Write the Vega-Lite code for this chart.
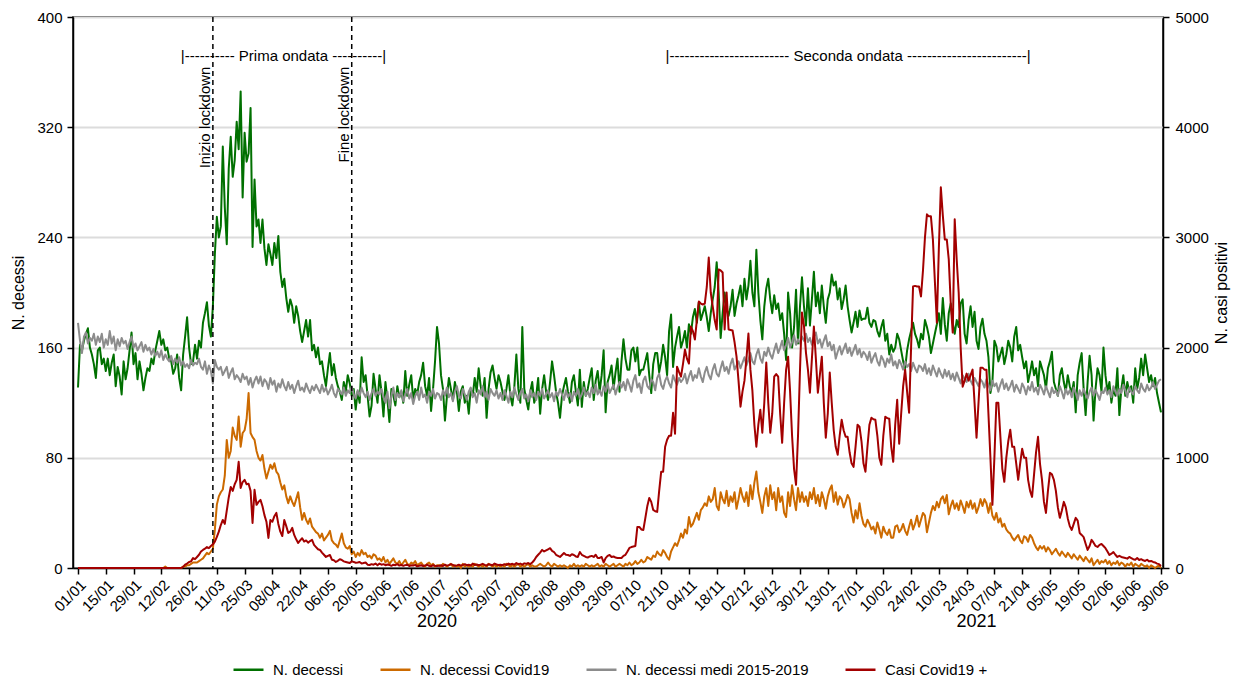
{
  "$schema": "https://vega.github.io/schema/vega-lite/v6.json",
  "width": 1090,
  "height": 551,
  "autosize": {"type": "none"},
  "padding": {"left": 73, "top": 17, "right": 71, "bottom": 109},
  "background": "white",
  "config": {
    "font": "Liberation Sans",
    "view": {"stroke": "black", "strokeWidth": 1.5},
    "axis": {
      "labelFont": "Liberation Sans",
      "labelFontSize": 15,
      "labelColor": "black",
      "titleFont": "Liberation Sans",
      "titleFontSize": 16,
      "titleFontWeight": "normal",
      "titleColor": "black",
      "domainColor": "black",
      "domainWidth": 1.5,
      "tickColor": "black",
      "tickWidth": 1.5,
      "tickSize": 6,
      "grid": false
    },
    "axisX": {"labelOverlap": false},
    "text": {"font": "Liberation Sans", "color": "black"}
  },
  "datasets": {
    "serie": [
{"t":"2020-01-01","dec":131,"cov":0,"med":178,"pos":0},
{"t":"2020-01-02","dec":162,"cov":0,"med":165,"pos":0},
{"t":"2020-01-03","dec":158,"cov":0,"med":156,"pos":0},
{"t":"2020-01-04","dec":165,"cov":0,"med":168,"pos":0},
{"t":"2020-01-05","dec":170,"cov":0,"med":171,"pos":0},
{"t":"2020-01-06","dec":174,"cov":0,"med":163,"pos":0},
{"t":"2020-01-07","dec":160,"cov":0,"med":167,"pos":0},
{"t":"2020-01-08","dec":155,"cov":0,"med":165,"pos":0},
{"t":"2020-01-09","dec":148,"cov":0,"med":170,"pos":0},
{"t":"2020-01-10","dec":138,"cov":0,"med":162,"pos":0},
{"t":"2020-01-11","dec":158,"cov":0,"med":168,"pos":0},
{"t":"2020-01-12","dec":160,"cov":0,"med":164,"pos":0},
{"t":"2020-01-13","dec":148,"cov":0,"med":170,"pos":0},
{"t":"2020-01-14","dec":152,"cov":0,"med":160,"pos":0},
{"t":"2020-01-15","dec":143,"cov":0,"med":166,"pos":0},
{"t":"2020-01-16","dec":152,"cov":0,"med":162,"pos":0},
{"t":"2020-01-17","dec":140,"cov":0,"med":172,"pos":0},
{"t":"2020-01-18","dec":149,"cov":0,"med":163,"pos":0},
{"t":"2020-01-19","dec":155,"cov":0,"med":168,"pos":0},
{"t":"2020-01-20","dec":132,"cov":0,"med":158,"pos":0},
{"t":"2020-01-21","dec":146,"cov":0,"med":166,"pos":0},
{"t":"2020-01-22","dec":139,"cov":0,"med":161,"pos":0},
{"t":"2020-01-23","dec":126,"cov":0,"med":167,"pos":0},
{"t":"2020-01-24","dec":150,"cov":0,"med":163,"pos":0},
{"t":"2020-01-25","dec":137,"cov":0,"med":165,"pos":0},
{"t":"2020-01-26","dec":145,"cov":0,"med":159,"pos":0},
{"t":"2020-01-27","dec":158,"cov":0,"med":164,"pos":0},
{"t":"2020-01-28","dec":171,"cov":0,"med":168,"pos":0},
{"t":"2020-01-29","dec":148,"cov":0,"med":160,"pos":0},
{"t":"2020-01-30","dec":156,"cov":0,"med":163,"pos":0},
{"t":"2020-01-31","dec":137,"cov":0,"med":158,"pos":0},
{"t":"2020-02-01","dec":150,"cov":0,"med":161,"pos":0},
{"t":"2020-02-02","dec":141,"cov":0,"med":164,"pos":0},
{"t":"2020-02-03","dec":129,"cov":0,"med":157,"pos":0},
{"t":"2020-02-04","dec":138,"cov":0,"med":162,"pos":0},
{"t":"2020-02-05","dec":145,"cov":0,"med":158,"pos":0},
{"t":"2020-02-06","dec":143,"cov":0,"med":160,"pos":0},
{"t":"2020-02-07","dec":152,"cov":0,"med":155,"pos":0},
{"t":"2020-02-08","dec":148,"cov":0,"med":159,"pos":0},
{"t":"2020-02-09","dec":158,"cov":0,"med":154,"pos":0},
{"t":"2020-02-10","dec":165,"cov":0,"med":157,"pos":0},
{"t":"2020-02-11","dec":172,"cov":0,"med":153,"pos":0},
{"t":"2020-02-12","dec":162,"cov":0,"med":158,"pos":0},
{"t":"2020-02-13","dec":166,"cov":0,"med":151,"pos":0},
{"t":"2020-02-14","dec":158,"cov":1,"med":155,"pos":0},
{"t":"2020-02-15","dec":160,"cov":0,"med":152,"pos":0},
{"t":"2020-02-16","dec":152,"cov":0,"med":150,"pos":0},
{"t":"2020-02-17","dec":150,"cov":0,"med":154,"pos":0},
{"t":"2020-02-18","dec":141,"cov":0,"med":148,"pos":0},
{"t":"2020-02-19","dec":145,"cov":0,"med":152,"pos":0},
{"t":"2020-02-20","dec":155,"cov":0,"med":149,"pos":0},
{"t":"2020-02-21","dec":138,"cov":0,"med":153,"pos":0},
{"t":"2020-02-22","dec":129,"cov":0,"med":147,"pos":0},
{"t":"2020-02-23","dec":155,"cov":1,"med":150,"pos":10},
{"t":"2020-02-24","dec":168,"cov":1,"med":146,"pos":30},
{"t":"2020-02-25","dec":182,"cov":2,"med":148,"pos":40},
{"t":"2020-02-26","dec":160,"cov":2,"med":145,"pos":55},
{"t":"2020-02-27","dec":148,"cov":3,"med":151,"pos":60},
{"t":"2020-02-28","dec":150,"cov":4,"med":147,"pos":90},
{"t":"2020-02-29","dec":162,"cov":4,"med":149,"pos":80},
{"t":"2020-03-01","dec":152,"cov":4,"med":148,"pos":100},
{"t":"2020-03-02","dec":165,"cov":5,"med":152,"pos":120},
{"t":"2020-03-03","dec":160,"cov":6,"med":146,"pos":150},
{"t":"2020-03-04","dec":178,"cov":7,"med":144,"pos":164},
{"t":"2020-03-05","dec":185,"cov":9,"med":150,"pos":175},
{"t":"2020-03-06","dec":193,"cov":11,"med":141,"pos":190},
{"t":"2020-03-07","dec":176,"cov":10,"med":147,"pos":180},
{"t":"2020-03-08","dec":168,"cov":12,"med":143,"pos":200},
{"t":"2020-03-09","dec":190,"cov":14,"med":134,"pos":215},
{"t":"2020-03-10","dec":228,"cov":28,"med":151,"pos":240},
{"t":"2020-03-11","dec":255,"cov":46,"med":146,"pos":282},
{"t":"2020-03-12","dec":240,"cov":52,"med":144,"pos":330},
{"t":"2020-03-13","dec":248,"cov":55,"med":146,"pos":390},
{"t":"2020-03-14","dec":306,"cov":57,"med":140,"pos":436},
{"t":"2020-03-15","dec":262,"cov":67,"med":143,"pos":400},
{"t":"2020-03-16","dec":235,"cov":93,"med":146,"pos":520},
{"t":"2020-03-17","dec":290,"cov":80,"med":138,"pos":640},
{"t":"2020-03-18","dec":313,"cov":85,"med":142,"pos":736},
{"t":"2020-03-19","dec":284,"cov":102,"med":145,"pos":700},
{"t":"2020-03-20","dec":296,"cov":96,"med":137,"pos":760},
{"t":"2020-03-21","dec":324,"cov":93,"med":140,"pos":800},
{"t":"2020-03-22","dec":304,"cov":110,"med":138,"pos":964},
{"t":"2020-03-23","dec":346,"cov":88,"med":135,"pos":727},
{"t":"2020-03-24","dec":269,"cov":98,"med":141,"pos":780},
{"t":"2020-03-25","dec":316,"cov":100,"med":137,"pos":800},
{"t":"2020-03-26","dec":295,"cov":108,"med":139,"pos":760},
{"t":"2020-03-27","dec":301,"cov":127,"med":133,"pos":764},
{"t":"2020-03-28","dec":334,"cov":98,"med":138,"pos":700},
{"t":"2020-03-29","dec":233,"cov":95,"med":131,"pos":409},
{"t":"2020-03-30","dec":282,"cov":93,"med":136,"pos":709},
{"t":"2020-03-31","dec":248,"cov":85,"med":139,"pos":573},
{"t":"2020-04-01","dec":253,"cov":80,"med":134,"pos":600},
{"t":"2020-04-02","dec":236,"cov":78,"med":139,"pos":618},
{"t":"2020-04-03","dec":253,"cov":82,"med":132,"pos":560},
{"t":"2020-04-04","dec":232,"cov":72,"med":137,"pos":480},
{"t":"2020-04-05","dec":220,"cov":65,"med":135,"pos":420},
{"t":"2020-04-06","dec":235,"cov":70,"med":130,"pos":273},
{"t":"2020-04-07","dec":228,"cov":75,"med":138,"pos":436},
{"t":"2020-04-08","dec":220,"cov":72,"med":133,"pos":420},
{"t":"2020-04-09","dec":236,"cov":76,"med":136,"pos":470},
{"t":"2020-04-10","dec":225,"cov":70,"med":128,"pos":500},
{"t":"2020-04-11","dec":241,"cov":68,"med":134,"pos":400},
{"t":"2020-04-12","dec":215,"cov":62,"med":131,"pos":330},
{"t":"2020-04-13","dec":204,"cov":57,"med":137,"pos":290},
{"t":"2020-04-14","dec":210,"cov":60,"med":132,"pos":436},
{"t":"2020-04-15","dec":196,"cov":52,"med":129,"pos":380},
{"t":"2020-04-16","dec":186,"cov":47,"med":135,"pos":318},
{"t":"2020-04-17","dec":195,"cov":52,"med":130,"pos":330},
{"t":"2020-04-18","dec":190,"cov":48,"med":133,"pos":364},
{"t":"2020-04-19","dec":178,"cov":45,"med":127,"pos":300},
{"t":"2020-04-20","dec":190,"cov":50,"med":132,"pos":260},
{"t":"2020-04-21","dec":183,"cov":55,"med":136,"pos":227},
{"t":"2020-04-22","dec":172,"cov":44,"med":129,"pos":250},
{"t":"2020-04-23","dec":164,"cov":35,"med":131,"pos":270},
{"t":"2020-04-24","dec":172,"cov":40,"med":128,"pos":240},
{"t":"2020-04-25","dec":180,"cov":35,"med":134,"pos":250},
{"t":"2020-04-26","dec":168,"cov":32,"med":130,"pos":230},
{"t":"2020-04-27","dec":180,"cov":36,"med":127,"pos":245},
{"t":"2020-04-28","dec":158,"cov":30,"med":132,"pos":255},
{"t":"2020-04-29","dec":162,"cov":28,"med":129,"pos":210},
{"t":"2020-04-30","dec":153,"cov":26,"med":133,"pos":190},
{"t":"2020-05-01","dec":160,"cov":25,"med":130,"pos":170},
{"t":"2020-05-02","dec":148,"cov":22,"med":127,"pos":164},
{"t":"2020-05-03","dec":150,"cov":25,"med":133,"pos":140},
{"t":"2020-05-04","dec":140,"cov":20,"med":128,"pos":120},
{"t":"2020-05-05","dec":132,"cov":22,"med":131,"pos":100},
{"t":"2020-05-06","dec":145,"cov":24,"med":126,"pos":110},
{"t":"2020-05-07","dec":156,"cov":27,"med":129,"pos":118},
{"t":"2020-05-08","dec":140,"cov":20,"med":133,"pos":75},
{"t":"2020-05-09","dec":148,"cov":18,"med":127,"pos":70},
{"t":"2020-05-10","dec":138,"cov":17,"med":124,"pos":55},
{"t":"2020-05-11","dec":132,"cov":15,"med":130,"pos":65},
{"t":"2020-05-12","dec":128,"cov":20,"med":128,"pos":80},
{"t":"2020-05-13","dec":122,"cov":25,"med":126,"pos":73},
{"t":"2020-05-14","dec":135,"cov":18,"med":131,"pos":60},
{"t":"2020-05-15","dec":128,"cov":15,"med":125,"pos":55},
{"t":"2020-05-16","dec":140,"cov":14,"med":129,"pos":50},
{"t":"2020-05-17","dec":134,"cov":16,"med":127,"pos":45},
{"t":"2020-05-18","dec":125,"cov":10,"med":132,"pos":60},
{"t":"2020-05-19","dec":130,"cov":12,"med":126,"pos":55},
{"t":"2020-05-20","dec":115,"cov":8,"med":123,"pos":48},
{"t":"2020-05-21","dec":128,"cov":11,"med":129,"pos":50},
{"t":"2020-05-22","dec":120,"cov":9,"med":125,"pos":55},
{"t":"2020-05-23","dec":153,"cov":13,"med":131,"pos":40},
{"t":"2020-05-24","dec":135,"cov":10,"med":127,"pos":45},
{"t":"2020-05-25","dec":140,"cov":11,"med":124,"pos":50},
{"t":"2020-05-26","dec":125,"cov":8,"med":128,"pos":30},
{"t":"2020-05-27","dec":110,"cov":9,"med":122,"pos":27},
{"t":"2020-05-28","dec":118,"cov":7,"med":127,"pos":35},
{"t":"2020-05-29","dec":141,"cov":10,"med":130,"pos":30},
{"t":"2020-05-30","dec":130,"cov":9,"med":125,"pos":40},
{"t":"2020-05-31","dec":120,"cov":6,"med":128,"pos":25},
{"t":"2020-06-01","dec":140,"cov":7,"med":126,"pos":40},
{"t":"2020-06-02","dec":128,"cov":5,"med":130,"pos":30},
{"t":"2020-06-03","dec":110,"cov":8,"med":124,"pos":35},
{"t":"2020-06-04","dec":135,"cov":4,"med":120,"pos":25},
{"t":"2020-06-05","dec":122,"cov":6,"med":128,"pos":32},
{"t":"2020-06-06","dec":106,"cov":3,"med":116,"pos":28},
{"t":"2020-06-07","dec":130,"cov":5,"med":125,"pos":20},
{"t":"2020-06-08","dec":125,"cov":7,"med":131,"pos":30},
{"t":"2020-06-09","dec":118,"cov":4,"med":122,"pos":25},
{"t":"2020-06-10","dec":132,"cov":3,"med":127,"pos":35},
{"t":"2020-06-11","dec":124,"cov":5,"med":124,"pos":22},
{"t":"2020-06-12","dec":128,"cov":2,"med":129,"pos":28},
{"t":"2020-06-13","dec":120,"cov":4,"med":121,"pos":20},
{"t":"2020-06-14","dec":143,"cov":6,"med":126,"pos":26},
{"t":"2020-06-15","dec":125,"cov":3,"med":130,"pos":30},
{"t":"2020-06-16","dec":133,"cov":2,"med":123,"pos":18},
{"t":"2020-06-17","dec":140,"cov":4,"med":127,"pos":24},
{"t":"2020-06-18","dec":122,"cov":3,"med":119,"pos":22},
{"t":"2020-06-19","dec":130,"cov":5,"med":125,"pos":28},
{"t":"2020-06-20","dec":126,"cov":2,"med":128,"pos":15},
{"t":"2020-06-21","dec":135,"cov":3,"med":122,"pos":20},
{"t":"2020-06-22","dec":140,"cov":4,"med":131,"pos":25},
{"t":"2020-06-23","dec":149,"cov":2,"med":124,"pos":18},
{"t":"2020-06-24","dec":132,"cov":1,"med":126,"pos":22},
{"t":"2020-06-25","dec":125,"cov":3,"med":120,"pos":30},
{"t":"2020-06-26","dec":138,"cov":4,"med":128,"pos":20},
{"t":"2020-06-27","dec":114,"cov":2,"med":125,"pos":15},
{"t":"2020-06-28","dec":130,"cov":3,"med":130,"pos":25},
{"t":"2020-06-29","dec":150,"cov":1,"med":123,"pos":20},
{"t":"2020-06-30","dec":175,"cov":2,"med":127,"pos":18},
{"t":"2020-07-01","dec":163,"cov":2,"med":126,"pos":20},
{"t":"2020-07-02","dec":140,"cov":1,"med":122,"pos":25},
{"t":"2020-07-03","dec":130,"cov":3,"med":129,"pos":18},
{"t":"2020-07-04","dec":107,"cov":2,"med":125,"pos":30},
{"t":"2020-07-05","dec":125,"cov":1,"med":131,"pos":22},
{"t":"2020-07-06","dec":138,"cov":2,"med":124,"pos":26},
{"t":"2020-07-07","dec":130,"cov":3,"med":127,"pos":35},
{"t":"2020-07-08","dec":122,"cov":1,"med":121,"pos":28},
{"t":"2020-07-09","dec":135,"cov":2,"med":128,"pos":20},
{"t":"2020-07-10","dec":128,"cov":1,"med":132,"pos":24},
{"t":"2020-07-11","dec":114,"cov":2,"med":125,"pos":30},
{"t":"2020-07-12","dec":128,"cov":0,"med":123,"pos":22},
{"t":"2020-07-13","dec":132,"cov":3,"med":130,"pos":28},
{"t":"2020-07-14","dec":120,"cov":1,"med":126,"pos":35},
{"t":"2020-07-15","dec":125,"cov":2,"med":122,"pos":25},
{"t":"2020-07-16","dec":112,"cov":1,"med":128,"pos":30},
{"t":"2020-07-17","dec":130,"cov":2,"med":131,"pos":22},
{"t":"2020-07-18","dec":125,"cov":1,"med":124,"pos":40},
{"t":"2020-07-19","dec":138,"cov":3,"med":127,"pos":28},
{"t":"2020-07-20","dec":128,"cov":2,"med":120,"pos":32},
{"t":"2020-07-21","dec":145,"cov":1,"med":129,"pos":25},
{"t":"2020-07-22","dec":132,"cov":2,"med":126,"pos":30},
{"t":"2020-07-23","dec":125,"cov":1,"med":132,"pos":38},
{"t":"2020-07-24","dec":138,"cov":2,"med":124,"pos":28},
{"t":"2020-07-25","dec":109,"cov":1,"med":128,"pos":22},
{"t":"2020-07-26","dec":130,"cov":3,"med":122,"pos":35},
{"t":"2020-07-27","dec":142,"cov":2,"med":130,"pos":30},
{"t":"2020-07-28","dec":147,"cov":1,"med":127,"pos":25},
{"t":"2020-07-29","dec":138,"cov":2,"med":125,"pos":40},
{"t":"2020-07-30","dec":130,"cov":1,"med":129,"pos":32},
{"t":"2020-07-31","dec":140,"cov":2,"med":123,"pos":28},
{"t":"2020-08-01","dec":135,"cov":1,"med":127,"pos":30},
{"t":"2020-08-02","dec":128,"cov":2,"med":122,"pos":25},
{"t":"2020-08-03","dec":122,"cov":1,"med":129,"pos":35},
{"t":"2020-08-04","dec":130,"cov":3,"med":125,"pos":28},
{"t":"2020-08-05","dec":140,"cov":2,"med":120,"pos":40},
{"t":"2020-08-06","dec":125,"cov":1,"med":128,"pos":32},
{"t":"2020-08-07","dec":118,"cov":2,"med":124,"pos":38},
{"t":"2020-08-08","dec":132,"cov":1,"med":131,"pos":30},
{"t":"2020-08-09","dec":155,"cov":2,"med":126,"pos":45},
{"t":"2020-08-10","dec":130,"cov":3,"med":122,"pos":35},
{"t":"2020-08-11","dec":120,"cov":1,"med":127,"pos":40},
{"t":"2020-08-12","dec":175,"cov":2,"med":130,"pos":30},
{"t":"2020-08-13","dec":130,"cov":1,"med":123,"pos":42},
{"t":"2020-08-14","dec":122,"cov":2,"med":126,"pos":38},
{"t":"2020-08-15","dec":115,"cov":3,"med":121,"pos":45},
{"t":"2020-08-16","dec":128,"cov":1,"med":129,"pos":35},
{"t":"2020-08-17","dec":135,"cov":2,"med":124,"pos":50},
{"t":"2020-08-18","dec":120,"cov":1,"med":127,"pos":70},
{"t":"2020-08-19","dec":125,"cov":1,"med":122,"pos":100},
{"t":"2020-08-20","dec":138,"cov":2,"med":128,"pos":120},
{"t":"2020-08-21","dec":112,"cov":3,"med":125,"pos":140},
{"t":"2020-08-22","dec":130,"cov":2,"med":130,"pos":164},
{"t":"2020-08-23","dec":140,"cov":1,"med":123,"pos":150},
{"t":"2020-08-24","dec":128,"cov":2,"med":126,"pos":160},
{"t":"2020-08-25","dec":122,"cov":4,"med":129,"pos":170},
{"t":"2020-08-26","dec":135,"cov":2,"med":124,"pos":180},
{"t":"2020-08-27","dec":150,"cov":1,"med":127,"pos":155},
{"t":"2020-08-28","dec":140,"cov":3,"med":121,"pos":145},
{"t":"2020-08-29","dec":128,"cov":2,"med":128,"pos":120},
{"t":"2020-08-30","dec":120,"cov":1,"med":125,"pos":110},
{"t":"2020-08-31","dec":109,"cov":2,"med":130,"pos":100},
{"t":"2020-09-01","dec":125,"cov":1,"med":126,"pos":118},
{"t":"2020-09-02","dec":132,"cov":2,"med":122,"pos":136},
{"t":"2020-09-03","dec":138,"cov":1,"med":129,"pos":120},
{"t":"2020-09-04","dec":128,"cov":0,"med":124,"pos":118},
{"t":"2020-09-05","dec":120,"cov":2,"med":127,"pos":110},
{"t":"2020-09-06","dec":135,"cov":1,"med":121,"pos":125},
{"t":"2020-09-07","dec":140,"cov":3,"med":128,"pos":118},
{"t":"2020-09-08","dec":128,"cov":1,"med":125,"pos":105},
{"t":"2020-09-09","dec":118,"cov":2,"med":130,"pos":100},
{"t":"2020-09-10","dec":144,"cov":1,"med":123,"pos":145},
{"t":"2020-09-11","dec":117,"cov":2,"med":126,"pos":120},
{"t":"2020-09-12","dec":135,"cov":1,"med":131,"pos":110},
{"t":"2020-09-13","dec":125,"cov":3,"med":125,"pos":100},
{"t":"2020-09-14","dec":130,"cov":2,"med":128,"pos":95},
{"t":"2020-09-15","dec":138,"cov":1,"med":124,"pos":105},
{"t":"2020-09-16","dec":145,"cov":2,"med":131,"pos":110},
{"t":"2020-09-17","dec":122,"cov":1,"med":127,"pos":100},
{"t":"2020-09-18","dec":136,"cov":2,"med":133,"pos":120},
{"t":"2020-09-19","dec":143,"cov":3,"med":126,"pos":91},
{"t":"2020-09-20","dec":128,"cov":1,"med":129,"pos":91},
{"t":"2020-09-21","dec":140,"cov":2,"med":125,"pos":100},
{"t":"2020-09-22","dec":158,"cov":1,"med":132,"pos":50},
{"t":"2020-09-23","dec":113,"cov":3,"med":128,"pos":90},
{"t":"2020-09-24","dec":135,"cov":2,"med":134,"pos":110},
{"t":"2020-09-25","dec":140,"cov":1,"med":127,"pos":118},
{"t":"2020-09-26","dec":147,"cov":2,"med":130,"pos":100},
{"t":"2020-09-27","dec":130,"cov":3,"med":133,"pos":105},
{"t":"2020-09-28","dec":142,"cov":1,"med":126,"pos":95},
{"t":"2020-09-29","dec":152,"cov":2,"med":131,"pos":91},
{"t":"2020-09-30","dec":128,"cov":3,"med":135,"pos":91},
{"t":"2020-10-01","dec":150,"cov":2,"med":131,"pos":91},
{"t":"2020-10-02","dec":166,"cov":1,"med":135,"pos":110},
{"t":"2020-10-03","dec":152,"cov":3,"med":129,"pos":120},
{"t":"2020-10-04","dec":144,"cov":2,"med":137,"pos":150},
{"t":"2020-10-05","dec":144,"cov":4,"med":133,"pos":182},
{"t":"2020-10-06","dec":158,"cov":2,"med":128,"pos":190},
{"t":"2020-10-07","dec":160,"cov":3,"med":136,"pos":195},
{"t":"2020-10-08","dec":150,"cov":5,"med":140,"pos":200},
{"t":"2020-10-09","dec":160,"cov":3,"med":131,"pos":373},
{"t":"2020-10-10","dec":140,"cov":4,"med":134,"pos":373},
{"t":"2020-10-11","dec":144,"cov":6,"med":127,"pos":350},
{"t":"2020-10-12","dec":144,"cov":4,"med":136,"pos":345},
{"t":"2020-10-13","dec":150,"cov":5,"med":139,"pos":450},
{"t":"2020-10-14","dec":156,"cov":8,"med":132,"pos":560},
{"t":"2020-10-15","dec":140,"cov":7,"med":130,"pos":636},
{"t":"2020-10-16","dec":127,"cov":6,"med":137,"pos":600},
{"t":"2020-10-17","dec":148,"cov":9,"med":135,"pos":527},
{"t":"2020-10-18","dec":156,"cov":8,"med":129,"pos":515},
{"t":"2020-10-19","dec":156,"cov":12,"med":138,"pos":509},
{"t":"2020-10-20","dec":142,"cov":10,"med":141,"pos":700},
{"t":"2020-10-21","dec":150,"cov":9,"med":133,"pos":873},
{"t":"2020-10-22","dec":162,"cov":13,"med":130,"pos":873},
{"t":"2020-10-23","dec":153,"cov":11,"med":136,"pos":1100},
{"t":"2020-10-24","dec":140,"cov":8,"med":139,"pos":1164},
{"t":"2020-10-25","dec":172,"cov":6,"med":134,"pos":1200},
{"t":"2020-10-26","dec":184,"cov":12,"med":131,"pos":1200},
{"t":"2020-10-27","dec":146,"cov":15,"med":140,"pos":1409},
{"t":"2020-10-28","dec":160,"cov":18,"med":136,"pos":1218},
{"t":"2020-10-29","dec":168,"cov":16,"med":133,"pos":1827},
{"t":"2020-10-30","dec":175,"cov":20,"med":138,"pos":1780},
{"t":"2020-10-31","dec":160,"cov":25,"med":135,"pos":1736},
{"t":"2020-11-01","dec":165,"cov":22,"med":137,"pos":1850},
{"t":"2020-11-02","dec":172,"cov":28,"med":141,"pos":1982},
{"t":"2020-11-03","dec":160,"cov":25,"med":134,"pos":1900},
{"t":"2020-11-04","dec":177,"cov":37,"med":139,"pos":1855},
{"t":"2020-11-05","dec":170,"cov":30,"med":143,"pos":2191},
{"t":"2020-11-06","dec":182,"cov":32,"med":136,"pos":2150},
{"t":"2020-11-07","dec":188,"cov":36,"med":140,"pos":2073},
{"t":"2020-11-08","dec":178,"cov":40,"med":138,"pos":2250},
{"t":"2020-11-09","dec":193,"cov":35,"med":145,"pos":2418},
{"t":"2020-11-10","dec":180,"cov":42,"med":139,"pos":2400},
{"t":"2020-11-11","dec":185,"cov":44,"med":135,"pos":2391},
{"t":"2020-11-12","dec":190,"cov":47,"med":142,"pos":2400},
{"t":"2020-11-13","dec":182,"cov":45,"med":146,"pos":2550},
{"t":"2020-11-14","dec":172,"cov":52,"med":140,"pos":2818},
{"t":"2020-11-15","dec":185,"cov":48,"med":137,"pos":2500},
{"t":"2020-11-16","dec":195,"cov":50,"med":144,"pos":2373},
{"t":"2020-11-17","dec":204,"cov":58,"med":148,"pos":2250},
{"t":"2020-11-18","dec":222,"cov":45,"med":141,"pos":2164},
{"t":"2020-11-19","dec":200,"cov":42,"med":139,"pos":2709},
{"t":"2020-11-20","dec":167,"cov":55,"med":145,"pos":2700},
{"t":"2020-11-21","dec":185,"cov":50,"med":150,"pos":2682},
{"t":"2020-11-22","dec":200,"cov":47,"med":143,"pos":2164},
{"t":"2020-11-23","dec":188,"cov":56,"med":146,"pos":2500},
{"t":"2020-11-24","dec":183,"cov":45,"med":141,"pos":2164},
{"t":"2020-11-25","dec":190,"cov":52,"med":148,"pos":2160},
{"t":"2020-11-26","dec":202,"cov":48,"med":152,"pos":2155},
{"t":"2020-11-27","dec":183,"cov":55,"med":144,"pos":2050},
{"t":"2020-11-28","dec":192,"cov":43,"med":147,"pos":1918},
{"t":"2020-11-29","dec":198,"cov":50,"med":150,"pos":1700},
{"t":"2020-11-30","dec":205,"cov":58,"med":145,"pos":1464},
{"t":"2020-12-01","dec":190,"cov":52,"med":149,"pos":1600},
{"t":"2020-12-02","dec":210,"cov":48,"med":153,"pos":1700},
{"t":"2020-12-03","dec":195,"cov":55,"med":147,"pos":1900},
{"t":"2020-12-04","dec":205,"cov":45,"med":151,"pos":2127},
{"t":"2020-12-05","dec":223,"cov":60,"med":156,"pos":1800},
{"t":"2020-12-06","dec":200,"cov":50,"med":150,"pos":1609},
{"t":"2020-12-07","dec":190,"cov":62,"med":148,"pos":1300},
{"t":"2020-12-08","dec":231,"cov":70,"med":155,"pos":1100},
{"t":"2020-12-09","dec":200,"cov":55,"med":159,"pos":1300},
{"t":"2020-12-10","dec":180,"cov":48,"med":152,"pos":1436},
{"t":"2020-12-11","dec":166,"cov":40,"med":149,"pos":1227},
{"t":"2020-12-12","dec":190,"cov":52,"med":157,"pos":1500},
{"t":"2020-12-13","dec":203,"cov":58,"med":154,"pos":1864},
{"t":"2020-12-14","dec":210,"cov":45,"med":160,"pos":1500},
{"t":"2020-12-15","dec":195,"cov":60,"med":155,"pos":1227},
{"t":"2020-12-16","dec":185,"cov":50,"med":152,"pos":1400},
{"t":"2020-12-17","dec":198,"cov":55,"med":158,"pos":1736},
{"t":"2020-12-18","dec":188,"cov":42,"med":163,"pos":1760},
{"t":"2020-12-19","dec":192,"cov":58,"med":156,"pos":1736},
{"t":"2020-12-20","dec":180,"cov":48,"med":160,"pos":1400},
{"t":"2020-12-21","dec":185,"cov":52,"med":165,"pos":1136},
{"t":"2020-12-22","dec":170,"cov":40,"med":158,"pos":1500},
{"t":"2020-12-23","dec":151,"cov":37,"med":162,"pos":1800},
{"t":"2020-12-24","dec":200,"cov":55,"med":167,"pos":1918},
{"t":"2020-12-25","dec":185,"cov":45,"med":160,"pos":1600},
{"t":"2020-12-26","dec":160,"cov":60,"med":164,"pos":1200},
{"t":"2020-12-27","dec":175,"cov":50,"med":169,"pos":900},
{"t":"2020-12-28","dec":202,"cov":42,"med":162,"pos":755},
{"t":"2020-12-29","dec":163,"cov":58,"med":166,"pos":1200},
{"t":"2020-12-30","dec":190,"cov":48,"med":163,"pos":1800},
{"t":"2020-12-31","dec":211,"cov":55,"med":168,"pos":2318},
{"t":"2021-01-01","dec":190,"cov":48,"med":165,"pos":2200},
{"t":"2021-01-02","dec":176,"cov":52,"med":170,"pos":1955},
{"t":"2021-01-03","dec":203,"cov":45,"med":164,"pos":1800},
{"t":"2021-01-04","dec":176,"cov":55,"med":167,"pos":1591},
{"t":"2021-01-05","dec":195,"cov":50,"med":162,"pos":1900},
{"t":"2021-01-06","dec":215,"cov":58,"med":168,"pos":2191},
{"t":"2021-01-07","dec":190,"cov":47,"med":171,"pos":1900},
{"t":"2021-01-08","dec":200,"cov":53,"med":163,"pos":1591},
{"t":"2021-01-09","dec":185,"cov":45,"med":166,"pos":1750},
{"t":"2021-01-10","dec":205,"cov":55,"med":160,"pos":1918},
{"t":"2021-01-11","dec":190,"cov":50,"med":165,"pos":1500},
{"t":"2021-01-12","dec":178,"cov":43,"med":169,"pos":1182},
{"t":"2021-01-13","dec":195,"cov":52,"med":161,"pos":1400},
{"t":"2021-01-14","dec":200,"cov":57,"med":164,"pos":1773},
{"t":"2021-01-15","dec":213,"cov":60,"med":158,"pos":1500},
{"t":"2021-01-16","dec":205,"cov":48,"med":162,"pos":1250},
{"t":"2021-01-17","dec":208,"cov":55,"med":152,"pos":1100},
{"t":"2021-01-18","dec":195,"cov":46,"med":157,"pos":1027},
{"t":"2021-01-19","dec":203,"cov":52,"med":161,"pos":1200},
{"t":"2021-01-20","dec":188,"cov":50,"med":155,"pos":1345},
{"t":"2021-01-21","dec":195,"cov":44,"med":159,"pos":1250},
{"t":"2021-01-22","dec":205,"cov":48,"med":163,"pos":1191},
{"t":"2021-01-23","dec":190,"cov":53,"med":156,"pos":1191},
{"t":"2021-01-24","dec":180,"cov":50,"med":160,"pos":1050},
{"t":"2021-01-25","dec":171,"cov":40,"med":154,"pos":950},
{"t":"2021-01-26","dec":178,"cov":33,"med":158,"pos":918},
{"t":"2021-01-27","dec":186,"cov":42,"med":162,"pos":1100},
{"t":"2021-01-28","dec":175,"cov":36,"med":155,"pos":1300},
{"t":"2021-01-29","dec":187,"cov":47,"med":159,"pos":1282},
{"t":"2021-01-30","dec":180,"cov":38,"med":153,"pos":1150},
{"t":"2021-01-31","dec":181,"cov":32,"med":157,"pos":950},
{"t":"2021-02-01","dec":181,"cov":30,"med":155,"pos":873},
{"t":"2021-02-02","dec":189,"cov":35,"med":151,"pos":1100},
{"t":"2021-02-03","dec":178,"cov":32,"med":157,"pos":1300},
{"t":"2021-02-04","dec":175,"cov":28,"med":149,"pos":1364},
{"t":"2021-02-05","dec":180,"cov":30,"med":153,"pos":1350},
{"t":"2021-02-06","dec":179,"cov":25,"med":156,"pos":1345},
{"t":"2021-02-07","dec":172,"cov":33,"med":150,"pos":1200},
{"t":"2021-02-08","dec":168,"cov":28,"med":147,"pos":1000},
{"t":"2021-02-09","dec":175,"cov":22,"med":154,"pos":936},
{"t":"2021-02-10","dec":180,"cov":30,"med":151,"pos":1200},
{"t":"2021-02-11","dec":165,"cov":26,"med":146,"pos":1373},
{"t":"2021-02-12","dec":170,"cov":24,"med":152,"pos":1360},
{"t":"2021-02-13","dec":155,"cov":28,"med":149,"pos":1355},
{"t":"2021-02-14","dec":162,"cov":22,"med":155,"pos":1100},
{"t":"2021-02-15","dec":157,"cov":22,"med":147,"pos":964},
{"t":"2021-02-16","dec":160,"cov":30,"med":150,"pos":1300},
{"t":"2021-02-17","dec":170,"cov":31,"med":145,"pos":1527},
{"t":"2021-02-18","dec":166,"cov":26,"med":151,"pos":1127},
{"t":"2021-02-19","dec":158,"cov":28,"med":148,"pos":1400},
{"t":"2021-02-20","dec":150,"cov":32,"med":144,"pos":1650},
{"t":"2021-02-21","dec":145,"cov":27,"med":150,"pos":1800},
{"t":"2021-02-22","dec":158,"cov":24,"med":146,"pos":1600},
{"t":"2021-02-23","dec":166,"cov":30,"med":148,"pos":1409},
{"t":"2021-02-24","dec":172,"cov":35,"med":143,"pos":2000},
{"t":"2021-02-25","dec":178,"cov":28,"med":149,"pos":2555},
{"t":"2021-02-26","dec":170,"cov":32,"med":145,"pos":2560},
{"t":"2021-02-27","dec":166,"cov":38,"med":142,"pos":2555},
{"t":"2021-02-28","dec":160,"cov":30,"med":147,"pos":2555},
{"t":"2021-03-01","dec":170,"cov":35,"med":146,"pos":2464},
{"t":"2021-03-02","dec":166,"cov":40,"med":143,"pos":2700},
{"t":"2021-03-03","dec":180,"cov":38,"med":148,"pos":3000},
{"t":"2021-03-04","dec":175,"cov":26,"med":141,"pos":3209},
{"t":"2021-03-05","dec":168,"cov":33,"med":145,"pos":3191},
{"t":"2021-03-06","dec":156,"cov":40,"med":140,"pos":3191},
{"t":"2021-03-07","dec":163,"cov":45,"med":147,"pos":2982},
{"t":"2021-03-08","dec":170,"cov":42,"med":143,"pos":2600},
{"t":"2021-03-09","dec":177,"cov":48,"med":139,"pos":2227},
{"t":"2021-03-10","dec":185,"cov":44,"med":145,"pos":2900},
{"t":"2021-03-11","dec":170,"cov":50,"med":141,"pos":3455},
{"t":"2021-03-12","dec":196,"cov":52,"med":138,"pos":3200},
{"t":"2021-03-13","dec":177,"cov":47,"med":144,"pos":2982},
{"t":"2021-03-14","dec":165,"cov":53,"med":139,"pos":2982},
{"t":"2021-03-15","dec":185,"cov":39,"med":143,"pos":2800},
{"t":"2021-03-16","dec":192,"cov":45,"med":137,"pos":2400},
{"t":"2021-03-17","dec":178,"cov":49,"med":141,"pos":2136},
{"t":"2021-03-18","dec":170,"cov":43,"med":136,"pos":3164},
{"t":"2021-03-19","dec":180,"cov":47,"med":142,"pos":2800},
{"t":"2021-03-20","dec":175,"cov":42,"med":138,"pos":2500},
{"t":"2021-03-21","dec":192,"cov":49,"med":134,"pos":2000},
{"t":"2021-03-22","dec":195,"cov":45,"med":140,"pos":1645},
{"t":"2021-03-23","dec":170,"cov":40,"med":137,"pos":1700},
{"t":"2021-03-24","dec":163,"cov":48,"med":135,"pos":1764},
{"t":"2021-03-25","dec":180,"cov":44,"med":141,"pos":1700},
{"t":"2021-03-26","dec":190,"cov":49,"med":136,"pos":1750},
{"t":"2021-03-27","dec":175,"cov":43,"med":133,"pos":1800},
{"t":"2021-03-28","dec":186,"cov":47,"med":138,"pos":1500},
{"t":"2021-03-29","dec":165,"cov":40,"med":135,"pos":1182},
{"t":"2021-03-30","dec":159,"cov":44,"med":132,"pos":1500},
{"t":"2021-03-31","dec":175,"cov":50,"med":137,"pos":1818},
{"t":"2021-04-01","dec":181,"cov":45,"med":135,"pos":1818},
{"t":"2021-04-02","dec":170,"cov":50,"med":131,"pos":1800},
{"t":"2021-04-03","dec":165,"cov":47,"med":137,"pos":1800},
{"t":"2021-04-04","dec":153,"cov":40,"med":133,"pos":1400},
{"t":"2021-04-05","dec":127,"cov":47,"med":129,"pos":1000},
{"t":"2021-04-06","dec":135,"cov":38,"med":136,"pos":573},
{"t":"2021-04-07","dec":165,"cov":35,"med":132,"pos":1000},
{"t":"2021-04-08","dec":161,"cov":40,"med":134,"pos":1500},
{"t":"2021-04-09","dec":150,"cov":33,"med":128,"pos":1500},
{"t":"2021-04-10","dec":155,"cov":36,"med":133,"pos":1200},
{"t":"2021-04-11","dec":160,"cov":30,"med":137,"pos":900},
{"t":"2021-04-12","dec":148,"cov":32,"med":130,"pos":782},
{"t":"2021-04-13","dec":155,"cov":28,"med":134,"pos":1000},
{"t":"2021-04-14","dec":165,"cov":26,"med":129,"pos":1150},
{"t":"2021-04-15","dec":160,"cov":25,"med":132,"pos":1255},
{"t":"2021-04-16","dec":150,"cov":22,"med":136,"pos":1100},
{"t":"2021-04-17","dec":168,"cov":20,"med":128,"pos":1100},
{"t":"2021-04-18","dec":175,"cov":22,"med":133,"pos":950},
{"t":"2021-04-19","dec":158,"cov":24,"med":130,"pos":800},
{"t":"2021-04-20","dec":162,"cov":20,"med":127,"pos":950},
{"t":"2021-04-21","dec":153,"cov":18,"med":134,"pos":1082},
{"t":"2021-04-22","dec":145,"cov":23,"med":131,"pos":1000},
{"t":"2021-04-23","dec":150,"cov":22,"med":126,"pos":1000},
{"t":"2021-04-24","dec":135,"cov":19,"med":132,"pos":800},
{"t":"2021-04-25","dec":142,"cov":24,"med":129,"pos":700},
{"t":"2021-04-26","dec":150,"cov":22,"med":135,"pos":645},
{"t":"2021-04-27","dec":140,"cov":18,"med":128,"pos":850},
{"t":"2021-04-28","dec":145,"cov":15,"med":131,"pos":1050},
{"t":"2021-04-29","dec":132,"cov":13,"med":126,"pos":1191},
{"t":"2021-04-30","dec":150,"cov":16,"med":133,"pos":945},
{"t":"2021-05-01","dec":145,"cov":14,"med":130,"pos":800},
{"t":"2021-05-02","dec":140,"cov":16,"med":126,"pos":600},
{"t":"2021-05-03","dec":130,"cov":12,"med":132,"pos":500},
{"t":"2021-05-04","dec":145,"cov":15,"med":128,"pos":700},
{"t":"2021-05-05","dec":150,"cov":13,"med":124,"pos":864},
{"t":"2021-05-06","dec":157,"cov":10,"med":131,"pos":850},
{"t":"2021-05-07","dec":135,"cov":12,"med":127,"pos":800},
{"t":"2021-05-08","dec":130,"cov":14,"med":129,"pos":700},
{"t":"2021-05-09","dec":125,"cov":11,"med":125,"pos":550},
{"t":"2021-05-10","dec":140,"cov":9,"med":132,"pos":455},
{"t":"2021-05-11","dec":145,"cov":12,"med":128,"pos":520},
{"t":"2021-05-12","dec":135,"cov":10,"med":123,"pos":600},
{"t":"2021-05-13","dec":128,"cov":8,"med":130,"pos":550},
{"t":"2021-05-14","dec":140,"cov":11,"med":126,"pos":450},
{"t":"2021-05-15","dec":132,"cov":9,"med":129,"pos":380},
{"t":"2021-05-16","dec":127,"cov":7,"med":124,"pos":345},
{"t":"2021-05-17","dec":135,"cov":10,"med":131,"pos":400},
{"t":"2021-05-18","dec":113,"cov":8,"med":127,"pos":455},
{"t":"2021-05-19","dec":140,"cov":6,"med":122,"pos":430},
{"t":"2021-05-20","dec":149,"cov":9,"med":129,"pos":318},
{"t":"2021-05-21","dec":156,"cov":7,"med":125,"pos":300},
{"t":"2021-05-22","dec":130,"cov":5,"med":130,"pos":280},
{"t":"2021-05-23","dec":111,"cov":8,"med":126,"pos":220},
{"t":"2021-05-24","dec":135,"cov":6,"med":123,"pos":164},
{"t":"2021-05-25","dec":154,"cov":4,"med":128,"pos":200},
{"t":"2021-05-26","dec":140,"cov":7,"med":131,"pos":255},
{"t":"2021-05-27","dec":107,"cov":2,"med":125,"pos":230},
{"t":"2021-05-28","dec":130,"cov":4,"med":129,"pos":200},
{"t":"2021-05-29","dec":145,"cov":6,"med":126,"pos":191},
{"t":"2021-05-30","dec":140,"cov":3,"med":122,"pos":210},
{"t":"2021-05-31","dec":128,"cov":5,"med":128,"pos":218},
{"t":"2021-06-01","dec":160,"cov":4,"med":127,"pos":200},
{"t":"2021-06-02","dec":140,"cov":6,"med":131,"pos":180},
{"t":"2021-06-03","dec":128,"cov":3,"med":126,"pos":150},
{"t":"2021-06-04","dec":135,"cov":5,"med":129,"pos":118},
{"t":"2021-06-05","dec":120,"cov":2,"med":124,"pos":130},
{"t":"2021-06-06","dec":130,"cov":4,"med":132,"pos":145},
{"t":"2021-06-07","dec":125,"cov":3,"med":128,"pos":120},
{"t":"2021-06-08","dec":145,"cov":5,"med":125,"pos":100},
{"t":"2021-06-09","dec":111,"cov":2,"med":130,"pos":110},
{"t":"2021-06-10","dec":130,"cov":4,"med":127,"pos":100},
{"t":"2021-06-11","dec":140,"cov":3,"med":133,"pos":95},
{"t":"2021-06-12","dec":125,"cov":1,"med":129,"pos":90},
{"t":"2021-06-13","dec":135,"cov":3,"med":124,"pos":85},
{"t":"2021-06-14","dec":128,"cov":2,"med":131,"pos":100},
{"t":"2021-06-15","dec":132,"cov":4,"med":128,"pos":90},
{"t":"2021-06-16","dec":120,"cov":1,"med":126,"pos":80},
{"t":"2021-06-17","dec":145,"cov":3,"med":132,"pos":75},
{"t":"2021-06-18","dec":130,"cov":2,"med":129,"pos":90},
{"t":"2021-06-19","dec":138,"cov":1,"med":127,"pos":73},
{"t":"2021-06-20","dec":152,"cov":3,"med":134,"pos":80},
{"t":"2021-06-21","dec":140,"cov":2,"med":130,"pos":70},
{"t":"2021-06-22","dec":155,"cov":1,"med":128,"pos":64},
{"t":"2021-06-23","dec":145,"cov":2,"med":133,"pos":75},
{"t":"2021-06-24","dec":135,"cov":0,"med":129,"pos":60},
{"t":"2021-06-25","dec":140,"cov":2,"med":131,"pos":64},
{"t":"2021-06-26","dec":132,"cov":1,"med":135,"pos":55},
{"t":"2021-06-27","dec":138,"cov":0,"med":130,"pos":50},
{"t":"2021-06-28","dec":127,"cov":1,"med":133,"pos":40},
{"t":"2021-06-29","dec":120,"cov":2,"med":136,"pos":35},
{"t":"2021-06-30","dec":113,"cov":0,"med":137,"pos":18}
    ],
    "eventi": [
      {"t": "2020-03-09", "evento": "Inizio lockdown"},
      {"t": "2020-05-18", "evento": "Fine lockdown"}
    ],
    "fasi": [
      {"t": "2020-04-13T14:00:00Z", "fase": "|---------- Prima ondata ----------|"},
      {"t": "2021-01-23T06:00:00Z", "fase": "|------------------------ Seconda ondata ------------------------|"}
    ],
    "anni": [
      {"t": "2020-06-30", "anno": "2020"},
      {"t": "2021-03-29", "anno": "2021"}
    ]
  },
  "encoding": {
    "x": {
      "field": "t",
      "type": "temporal",
      "scale": {
        "type": "utc",
        "domain": [
          {"year": 2019, "month": 12, "date": 29, "hours": 11, "minutes": 30, "utc": true},
          {"year": 2021, "month": 7, "date": 1, "hours": 0, "minutes": 12, "utc": true}
        ]
      },
      "axis": {
        "title": null,
        "format": "%d/%m",
        "labelAngle": -45,
        "labelPadding": 3,
        "labelOverlap": false,
        "labelBound": false,
        "values": [
          {"year": 2020, "month": 1, "date": 1, "utc": true},
          {"year": 2020, "month": 1, "date": 15, "utc": true},
          {"year": 2020, "month": 1, "date": 29, "utc": true},
          {"year": 2020, "month": 2, "date": 12, "utc": true},
          {"year": 2020, "month": 2, "date": 26, "utc": true},
          {"year": 2020, "month": 3, "date": 11, "utc": true},
          {"year": 2020, "month": 3, "date": 25, "utc": true},
          {"year": 2020, "month": 4, "date": 8, "utc": true},
          {"year": 2020, "month": 4, "date": 22, "utc": true},
          {"year": 2020, "month": 5, "date": 6, "utc": true},
          {"year": 2020, "month": 5, "date": 20, "utc": true},
          {"year": 2020, "month": 6, "date": 3, "utc": true},
          {"year": 2020, "month": 6, "date": 17, "utc": true},
          {"year": 2020, "month": 7, "date": 1, "utc": true},
          {"year": 2020, "month": 7, "date": 15, "utc": true},
          {"year": 2020, "month": 7, "date": 29, "utc": true},
          {"year": 2020, "month": 8, "date": 12, "utc": true},
          {"year": 2020, "month": 8, "date": 26, "utc": true},
          {"year": 2020, "month": 9, "date": 9, "utc": true},
          {"year": 2020, "month": 9, "date": 23, "utc": true},
          {"year": 2020, "month": 10, "date": 7, "utc": true},
          {"year": 2020, "month": 10, "date": 21, "utc": true},
          {"year": 2020, "month": 11, "date": 4, "utc": true},
          {"year": 2020, "month": 11, "date": 18, "utc": true},
          {"year": 2020, "month": 12, "date": 2, "utc": true},
          {"year": 2020, "month": 12, "date": 16, "utc": true},
          {"year": 2020, "month": 12, "date": 30, "utc": true},
          {"year": 2021, "month": 1, "date": 13, "utc": true},
          {"year": 2021, "month": 1, "date": 27, "utc": true},
          {"year": 2021, "month": 2, "date": 10, "utc": true},
          {"year": 2021, "month": 2, "date": 24, "utc": true},
          {"year": 2021, "month": 3, "date": 10, "utc": true},
          {"year": 2021, "month": 3, "date": 24, "utc": true},
          {"year": 2021, "month": 4, "date": 7, "utc": true},
          {"year": 2021, "month": 4, "date": 21, "utc": true},
          {"year": 2021, "month": 5, "date": 5, "utc": true},
          {"year": 2021, "month": 5, "date": 19, "utc": true},
          {"year": 2021, "month": 6, "date": 2, "utc": true},
          {"year": 2021, "month": 6, "date": 16, "utc": true},
          {"year": 2021, "month": 6, "date": 30, "utc": true}
        ]
      }
    }
  },
  "layer": [
    {
      "layer": [
        {
          "data": {"name": "serie"},
          "transform": [{"fold": ["dec", "cov", "med"], "as": ["serie", "valore"]}],
          "mark": {"type": "line", "strokeWidth": 2, "strokeJoin": "round"},
          "encoding": {
            "y": {
              "field": "valore",
              "type": "quantitative",
              "scale": {"domain": [0, 400], "nice": false, "zero": true},
              "axis": {
                "title": "N. decessi",
                "values": [0, 80, 160, 240, 320, 400],
                "grid": true,
                "gridColor": "#dcdcdc",
                "gridWidth": 2,
                "labelPadding": 5,
                "titlePadding": 10
              }
            },
            "color": {
              "field": "serie",
              "type": "nominal",
              "scale": {
                "domain": ["dec", "cov", "med", "pos"],
                "range": ["#007000", "#cc6a00", "#8c8c8c", "#a30000"]
              },
              "legend": {
                "title": null,
                "orient": "none",
                "direction": "horizontal",
                "legendX": 159,
                "legendY": 636,
                "symbolType": "stroke",
                "symbolSize": 900,
                "symbolStrokeWidth": 2.5,
                "labelFont": "Liberation Sans",
                "labelFontSize": 15,
                "labelColor": "black",
                "labelOffset": 8,
                "labelLimit": 400,
                "columnPadding": 31,
                "labelExpr": "datum.label == 'dec' ? 'N. decessi' : datum.label == 'cov' ? 'N. decessi Covid19' : datum.label == 'med' ? 'N. decessi medi 2015-2019' : 'Casi Covid19 +'"
              }
            }
          }
        },
        {
          "data": {"name": "eventi"},
          "mark": {"type": "rule", "color": "black", "strokeWidth": 1.5, "strokeDash": [5, 4]},
          "encoding": {}
        },
        {
          "data": {"name": "eventi"},
          "mark": {"type": "text", "angle": 270, "align": "right", "baseline": "bottom", "fontSize": 15},
          "encoding": {
            "y": {"datum": 364, "type": "quantitative"},
            "text": {"field": "evento"}
          }
        },
        {
          "data": {"name": "fasi"},
          "mark": {"type": "text", "align": "center", "baseline": "middle", "fontSize": 15},
          "encoding": {
            "y": {"datum": 372, "type": "quantitative"},
            "text": {"field": "fase"}
          }
        },
        {
          "data": {"name": "anni"},
          "mark": {"type": "text", "align": "center", "baseline": "middle", "fontSize": 18},
          "encoding": {
            "y": {"datum": -39, "type": "quantitative"},
            "text": {"field": "anno"}
          }
        }
      ]
    },
    {
      "data": {"name": "serie"},
      "mark": {"type": "line", "strokeWidth": 2, "strokeJoin": "round"},
      "encoding": {
        "y": {
          "field": "pos",
          "type": "quantitative",
          "scale": {"domain": [0, 5000], "nice": false},
          "axis": {
            "orient": "right",
            "title": "N. casi positivi",
            "titleAngle": 270,
            "titleBaseline": "top",
            "format": "d",
            "values": [0, 1000, 2000, 3000, 4000, 5000],
            "grid": false,
            "labelPadding": 6,
            "titlePadding": 5
          }
        },
        "color": {"datum": "pos", "type": "nominal"}
      }
    }
  ],
  "resolve": {"scale": {"y": "independent"}}
}
